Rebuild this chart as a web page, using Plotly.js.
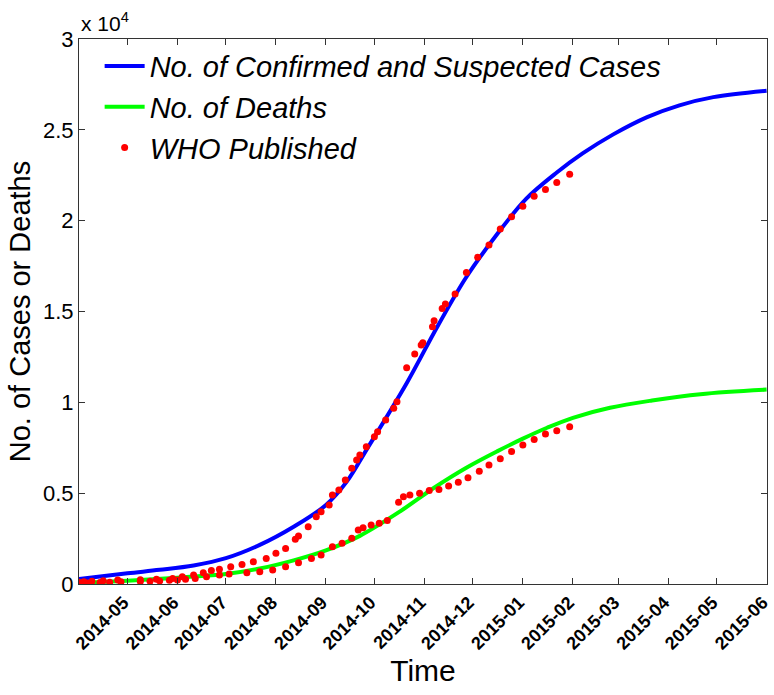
<!DOCTYPE html>
<html>
<head>
<meta charset="utf-8">
<script src="https://cdn.plot.ly/plotly-3.0.1.min.js"></script>
<style>html,body{margin:0;padding:0;background:#fff;}#chart{width:774px;height:695px;}</style>
</head>
<body>
<div id="chart"></div>
<script>
// Model curve: confirmed + suspected cases
const modelDates = ['2014-04-01','2014-05-01','2014-05-21','2014-06-11','2014-07-01','2014-07-22','2014-08-12','2014-09-01','2014-09-14','2014-09-26','2014-10-21','2014-11-09','2014-11-27','2014-12-16','2015-01-03','2015-01-22','2015-02-07','2015-02-26','2015-03-19','2015-04-08','2015-04-29','2015-06-01'];
const modelCases = [270,590,780,1020,1420,2150,3150,4350,5650,7370,11050,14160,16900,19250,21200,22650,23700,24750,25700,26350,26800,27150];
// Model curve: deaths
const deathDates = ['2014-04-01','2014-05-01','2014-06-01','2014-07-01','2014-07-22','2014-08-12','2014-09-01','2014-09-22','2014-10-17','2014-11-07','2014-11-27','2014-12-16','2015-01-01','2015-01-16','2015-02-01','2015-02-24','2015-03-22','2015-04-21','2015-06-01'];
const modelDeaths = [50,180,350,550,850,1300,1850,2650,4000,5300,6400,7300,8000,8600,9150,9700,10100,10450,10700];

// WHO published: cases
const whoCaseDates = ['2014-04-01','2014-04-04','2014-04-09','2014-04-16','2014-04-25','2014-05-09','2014-05-19','2014-05-29','2014-06-04','2014-06-11','2014-06-17','2014-06-22','2014-06-27','2014-07-04','2014-07-11','2014-07-18','2014-07-26','2014-08-01','2014-08-07','2014-08-13','2014-08-15','2014-08-21','2014-08-26','2014-08-29','2014-09-03','2014-09-05','2014-09-09','2014-09-13','2014-09-17','2014-09-20','2014-09-22','2014-09-26','2014-10-01','2014-10-03','2014-10-08','2014-10-13','2014-10-15','2014-10-21','2014-10-26','2014-10-30','2014-10-31','2014-11-06','2014-11-07','2014-11-12','2014-11-14','2014-11-20','2014-11-27','2014-12-04','2014-12-11','2014-12-18','2014-12-25','2015-01-01','2015-01-08','2015-01-15','2015-01-22','2015-01-30'];
const whoCases = [100,120,150,180,220,240,260,300,400,500,620,750,810,950,1080,1230,1410,1690,1960,2460,2640,3150,3700,3980,4350,4900,5170,5720,6370,6820,7100,7560,8100,8380,9030,9670,10030,11900,12660,13150,13280,14160,14490,15170,15410,15960,17150,17980,18660,19540,20210,20800,21350,21720,22100,22550];
// WHO published: deaths
const whoDeathDates = ['2014-04-01','2014-04-06','2014-04-14','2014-04-20','2014-04-27','2014-05-09','2014-05-15','2014-05-21','2014-05-27','2014-06-01','2014-06-06','2014-06-12','2014-06-19','2014-06-27','2014-07-03','2014-07-14','2014-07-22','2014-07-30','2014-08-07','2014-08-15','2014-08-23','2014-08-29','2014-09-05','2014-09-11','2014-09-17','2014-09-21','2014-09-24','2014-09-29','2014-10-04','2014-10-09','2014-10-16','2014-10-19','2014-10-23','2014-10-29','2014-11-04','2014-11-10','2014-11-16','2014-11-22','2014-11-28','2014-12-05','2014-12-11','2014-12-18','2014-12-25','2015-01-01','2015-01-08','2015-01-15','2015-01-22','2015-01-30'];
const whoDeaths = [50,60,80,100,120,140,150,170,200,220,260,300,400,500,550,620,680,770,950,1170,1410,1600,2050,2240,2520,2970,3100,3250,3350,3500,4500,4800,4900,5000,5150,5200,5400,5600,5850,6200,6550,6900,7300,7650,7960,8260,8440,8660];

const xTickVals = ['2014-05-01','2014-06-01','2014-07-01','2014-08-01','2014-09-01','2014-10-01','2014-11-01','2014-12-01','2015-01-01','2015-02-01','2015-03-01','2015-04-01','2015-05-01','2015-06-01'];
const xTickText = ['2014-05','2014-06','2014-07','2014-08','2014-09','2014-10','2014-11','2014-12','2015-01','2015-02','2015-03','2015-04','2015-05','2015-06'];
const yTickVals = [0,5000,10000,15000,20000,25000,30000];
const yTickText = ['0','0.5','1','1.5','2','2.5','3'];

const FONT = 'Liberation Sans, Arial, sans-serif';

const traces = [
  {x: modelDates, y: modelCases, type: 'scatter', mode: 'lines', name: 'No. of Confirmed and Suspected Cases',
   line: {color: '#0000ff', width: 4, shape: 'spline', smoothing: 1}},
  {x: deathDates, y: modelDeaths, type: 'scatter', mode: 'lines', name: 'No. of Deaths',
   line: {color: '#00ff00', width: 4, shape: 'spline', smoothing: 1}},
  {x: whoCaseDates, y: whoCases, type: 'scatter', mode: 'markers', name: 'WHO Published', legendgroup: 'who',
   marker: {color: '#ff0000', size: 7, symbol: 'circle'}},
  {x: whoDeathDates, y: whoDeaths, type: 'scatter', mode: 'markers', name: 'WHO Published', legendgroup: 'who', showlegend: false,
   marker: {color: '#ff0000', size: 7, symbol: 'circle'}}
];

const layout = {
  width: 774, height: 695,
  margin: {l: 79, r: 7, t: 39, b: 111},
  paper_bgcolor: '#fff', plot_bgcolor: '#fff',
  font: {family: FONT, color: '#000'},
  showlegend: true,
  legend: {x: 0.03, y: 0.997, xanchor: 'left', yanchor: 'top', bgcolor: 'rgba(0,0,0,0)',
           font: {family: FONT, size: 29, style: 'italic', color: '#000'}, tracegroupgap: 0, itemwidth: 40},
  xaxis: {
    type: 'date', range: ['2014-04-01', '2015-06-01 06:00'],
    tickmode: 'array', tickvals: xTickVals, ticktext: xTickText, tickangle: -45,
    tickfont: {family: FONT, size: 18, weight: 'bold', color: '#000'}, ticklabeloverflow: 'allow', ticklabelshift: -4,
    ticks: 'inside', ticklen: 6, tickcolor: '#333', showline: true, linecolor: '#333', linewidth: 1, mirror: 'ticks',
    showgrid: false, zeroline: false,
    title: {text: 'Time', font: {family: FONT, size: 30, color: '#000'}, standoff: 6}
  },
  yaxis: {
    range: [0, 30000], tickmode: 'array', tickvals: yTickVals, ticktext: yTickText,
    tickfont: {family: FONT, size: 22, color: '#000'},
    ticks: 'inside', ticklen: 6, tickcolor: '#333', showline: true, linecolor: '#333', linewidth: 1, mirror: 'ticks',
    showgrid: false, zeroline: false,
    title: {text: 'No. of Cases or Deaths', font: {family: FONT, size: 29, color: '#000'}, standoff: 3}
  },
  annotations: [
    {xref: 'paper', yref: 'paper', x: 0, y: 1, xanchor: 'left', yanchor: 'bottom', yshift: 2, showarrow: false,
     text: 'x 10<sup>4</sup>', font: {family: FONT, size: 21, color: '#000'}}
  ]
};

Plotly.newPlot('chart', traces, layout, {displayModeBar: false, staticPlot: true});
</script>
</body>
</html>
